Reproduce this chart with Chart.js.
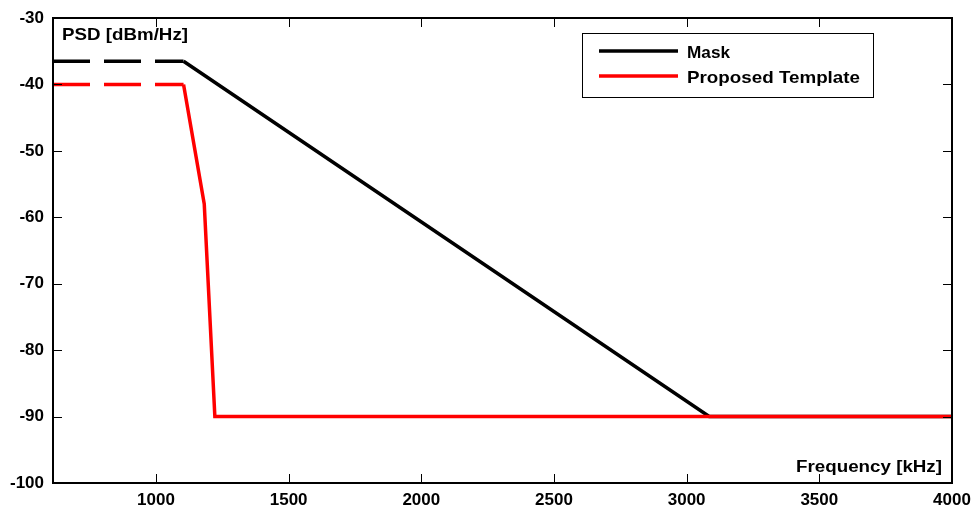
<!DOCTYPE html>
<html lang="en">
<head>
<meta charset="UTF-8">
<title>PSD Mask vs Proposed Template</title>
<script src="https://cdn.jsdelivr.net/npm/chart.js"></script>
<style>
  html, body { margin: 0; padding: 0; background: #fff; }
  #wrap { width: 975px; height: 510px; }
</style>
</head>
<body>
<div id="wrap"><canvas id="psd"></canvas></div>
<script>
// data (frequency in kHz, PSD in dBm/Hz)
const maskFreq = [612, 1104, 3085, 4000];
const maskPsd = [-36.5, -36.5, -90, -90];
const templFreq = [612, 1104, 1182, 1222, 4000];
const templPsd = [-40, -40, -58, -90, -90];
const xTicks = [1000, 1500, 2000, 2500, 3000, 3500, 4000];
const yTicks = [-100, -90, -80, -70, -60, -50, -40, -30];
const seriesNames = ['Mask', 'Proposed Template'];
const seriesColors = ['#000000', '#ff0000'];

const FONT = "'Liberation Sans', Arial, sans-serif";

function pts(xs, ys) { return xs.map((x, i) => ({ x: x, y: ys[i] })); }

// text stretched to a given width, like in the original bitmap
function wideText(ctx, txt, x, y, size, w, align) {
  ctx.save();
  ctx.font = 'bold ' + size + 'px ' + FONT;
  ctx.textBaseline = 'alphabetic';
  ctx.textAlign = 'left';
  const nat = ctx.measureText(txt).width;
  const sx = w / nat;
  const x0 = align === 'right' ? x - w : x;
  ctx.translate(x0, y);
  ctx.scale(sx, 1);
  ctx.fillStyle = '#000';
  ctx.fillText(txt, 0, 0);
  ctx.restore();
}

// frame, inward ticks, axis titles and legend
const boxPlugin = {
  id: 'box',
  afterDraw(chart) {
    const ctx = chart.ctx, a = chart.chartArea;
    const xs = chart.scales.x, ys = chart.scales.y;
    ctx.save();
    ctx.strokeStyle = '#000';
    ctx.lineWidth = 1;
    ctx.beginPath();
    xTicks.forEach(v => {
      const px = Math.round(xs.getPixelForValue(v)) + 0.5;
      ctx.moveTo(px, a.bottom); ctx.lineTo(px, a.bottom - 9);
      ctx.moveTo(px, a.top); ctx.lineTo(px, a.top + 9);
    });
    yTicks.forEach(v => {
      const py = Math.round(ys.getPixelForValue(v)) + 0.5;
      ctx.moveTo(a.left, py); ctx.lineTo(a.left + 9, py);
      ctx.moveTo(a.right, py); ctx.lineTo(a.right - 9, py);
    });
    ctx.stroke();
    ctx.lineWidth = 2;
    ctx.strokeRect(a.left, a.top, a.right - a.left, a.bottom - a.top);

    wideText(ctx, 'PSD [dBm/Hz]', 62, 40, 17, 126, 'left');
    wideText(ctx, 'Frequency [kHz]', 942, 472, 16, 146, 'right');

    // legend
    ctx.fillStyle = '#fff';
    ctx.fillRect(582, 33, 291, 64);
    ctx.lineWidth = 1;
    ctx.strokeStyle = '#000';
    ctx.strokeRect(582.5, 33.5, 291, 64);
    const rows = [51, 76];
    const tw = [43, 173];
    chart.data.datasets.forEach((ds, i) => {
      ctx.strokeStyle = ds.borderColor;
      ctx.lineWidth = 3.5;
      ctx.beginPath();
      ctx.moveTo(599, rows[i]); ctx.lineTo(678, rows[i]);
      ctx.stroke();
      wideText(ctx, ds.label, 687, rows[i] + 6.5, 17, tw[i], 'left');
    });
    ctx.restore();
  }
};

new Chart(document.getElementById('psd'), {
  type: 'line',
  data: {
    datasets: [
      {
        label: seriesNames[0],
        data: pts(maskFreq, maskPsd),
        borderColor: seriesColors[0],
        borderWidth: 3.5,
        pointRadius: 0,
        tension: 0,
        order: 1,
        segment: { borderDash: c => c.p0DataIndex === 0 ? [37, 14] : undefined }
      },
      {
        label: seriesNames[1],
        data: pts(templFreq, templPsd),
        borderColor: seriesColors[1],
        borderWidth: 3.5,
        pointRadius: 0,
        tension: 0,
        order: 0,
        segment: { borderDash: c => c.p0DataIndex === 0 ? [37, 14] : undefined }
      }
    ]
  },
  options: {
    responsive: true,
    maintainAspectRatio: false,
    animation: false,
    events: [],
    layout: { padding: { top: 18, right: 23, left: 0, bottom: 0 } },
    plugins: { legend: { display: false }, tooltip: { enabled: false } },
    scales: {
      x: {
        type: 'linear',
        min: maskFreq[0],
        max: 4000,
        grid: { display: false, drawTicks: false },
        border: { display: false },
        afterBuildTicks: s => { s.ticks = xTicks.map(v => ({ value: v })); },
        afterFit: s => { s.height = 27; s.paddingLeft = 0; s.paddingRight = 0; },
        ticks: {
          padding: 7,
          color: '#000',
          maxRotation: 0,
          autoSkip: false,
          callback: v => String(v),
          font: { family: FONT, weight: 'bold', size: 17 }
        }
      },
      y: {
        type: 'linear',
        min: -100,
        max: -30,
        grid: { display: false, drawTicks: false },
        border: { display: false },
        afterBuildTicks: s => { s.ticks = yTicks.map(v => ({ value: v })); },
        afterFit: s => { s.width = 53; s.paddingTop = 0; s.paddingBottom = 0; },
        ticks: {
          padding: 9,
          color: '#000',
          autoSkip: false,
          callback: v => String(v),
          font: { family: FONT, weight: 'bold', size: 17 }
        }
      }
    }
  },
  plugins: [boxPlugin]
});
</script>
</body>
</html>
